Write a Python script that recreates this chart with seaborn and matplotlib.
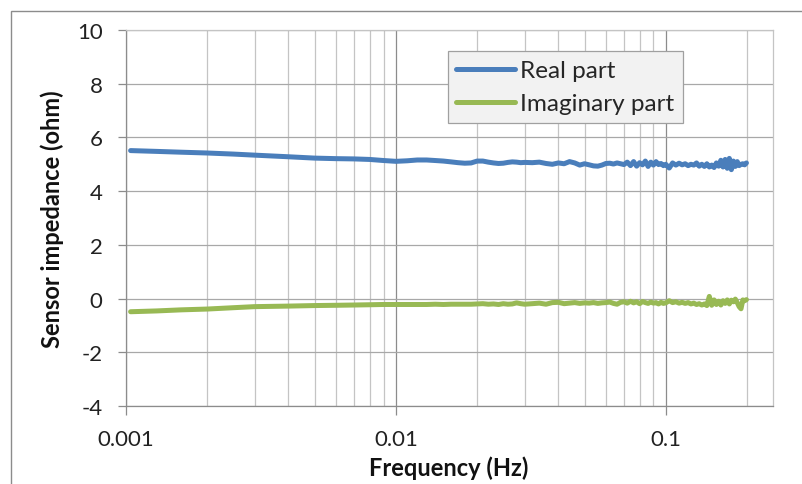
import numpy as np
import pandas as pd
import matplotlib
matplotlib.use("Agg")
import matplotlib.pyplot as plt
import seaborn as sns
from matplotlib.patches import Rectangle
from matplotlib.ticker import LogLocator, FixedLocator, NullFormatter, FixedFormatter
from matplotlib.lines import Line2D

# ---------------- data ----------------
freq_hz = [0.00104, 0.0013, 0.0016, 0.002, 0.0025, 0.003, 0.004, 0.005, 0.006, 0.007,
           0.008, 0.009, 0.010, 0.011, 0.012, 0.013, 0.014, 0.015, 0.016, 0.017,
           0.018, 0.019, 0.020, 0.021, 0.022, 0.023, 0.024, 0.025, 0.026, 0.027,
           0.028, 0.029, 0.030, 0.032, 0.034, 0.036, 0.038, 0.040, 0.042, 0.044,
           0.046, 0.048, 0.050, 0.052, 0.054, 0.056, 0.058, 0.060, 0.062, 0.064,
           0.066, 0.068, 0.070, 0.072, 0.074, 0.076, 0.078, 0.080, 0.082, 0.084,
           0.086, 0.088, 0.090, 0.092, 0.094, 0.096, 0.098, 0.100, 0.103, 0.106,
           0.109, 0.112, 0.115, 0.118, 0.121, 0.124, 0.127, 0.130, 0.133, 0.136,
           0.139, 0.142, 0.145, 0.148, 0.151, 0.154, 0.157, 0.160, 0.163, 0.166,
           0.169, 0.172, 0.175, 0.178, 0.181, 0.184, 0.187, 0.190, 0.193, 0.196,
           0.199]

real_part = [5.51, 5.48, 5.45, 5.42, 5.38, 5.34, 5.28, 5.23, 5.21, 5.20,
             5.18, 5.14, 5.11, 5.13, 5.16, 5.16, 5.14, 5.12, 5.09, 5.06,
             5.04, 5.05, 5.12, 5.12, 5.08, 5.05, 5.03, 5.04, 5.07, 5.09,
             5.08, 5.06, 5.07, 5.06, 5.08, 5.03, 5.00, 5.05, 5.02, 5.10,
             5.05, 4.97, 5.02, 4.98, 4.94, 4.93, 4.97, 5.03, 5.04, 5.01,
             5.05, 5.02, 4.99, 5.08, 4.95, 5.10, 4.93, 5.06, 4.98, 5.12,
             4.92, 5.08, 4.97, 5.10, 4.99, 5.03, 4.95, 5.00, 4.86, 5.05,
             4.97, 5.04, 4.98, 5.02, 4.95, 5.00, 4.97, 5.05, 4.93, 5.00,
             4.92, 5.02, 4.90, 4.97, 4.88, 5.05, 4.93, 5.15, 4.90, 5.18,
             4.85, 5.22, 4.80, 5.12, 4.92, 5.10, 4.95, 5.00, 5.02, 4.98,
             5.05]

imag_part = [-0.49, -0.46, -0.42, -0.39, -0.34, -0.30, -0.28, -0.26, -0.25, -0.24,
             -0.23, -0.22, -0.22, -0.22, -0.22, -0.22, -0.21, -0.22, -0.21, -0.21,
             -0.21, -0.21, -0.20, -0.19, -0.21, -0.20, -0.22, -0.19, -0.21, -0.20,
             -0.16, -0.19, -0.21, -0.19, -0.17, -0.21, -0.15, -0.14, -0.19, -0.17,
             -0.15, -0.18, -0.16, -0.17, -0.15, -0.18, -0.16, -0.15, -0.13, -0.18,
             -0.21, -0.14, -0.12, -0.17, -0.10, -0.16, -0.12, -0.19, -0.11, -0.15,
             -0.18, -0.13, -0.17, -0.15, -0.20, -0.14, -0.18, -0.16, -0.08, -0.15,
             -0.12, -0.17, -0.14, -0.18, -0.15, -0.20, -0.17, -0.22, -0.19, -0.24,
             -0.20, -0.26, 0.08, -0.25, -0.05, -0.22, -0.10, -0.24, -0.08, -0.18,
             -0.05, -0.20, -0.06, -0.12, -0.02, -0.15, -0.30, -0.38, -0.05, -0.08,
             -0.04]

series_names = ["Real part", "Imaginary part"]
series_colors = ["#4a7ebb", "#98b954"]

x_major_ticks = [0.001, 0.01, 0.1]
x_tick_labels = ["0.001", "0.01", "0.1"]
y_ticks = [-4, -2, 0, 2, 4, 6, 8, 10]
x_label = "Frequency (Hz)"
y_label = "Sensor impedance (ohm)"

# ---------------- build frame ----------------
df = pd.concat([
    pd.DataFrame({"freq": freq_hz, "value": real_part, "series": series_names[0]}),
    pd.DataFrame({"freq": freq_hz, "value": imag_part, "series": series_names[1]}),
], ignore_index=True)

sns.set_style("white")
plt.rcParams["font.family"] = ["Lato", "DejaVu Sans"]

fig = plt.figure(figsize=(8.02, 4.85), dpi=100)
ax = fig.add_axes([126 / 802, 1 - 407 / 485, (772.7 - 126) / 802, (407 - 31) / 485])

sns.lineplot(data=df, x="freq", y="value", hue="series", hue_order=series_names,
             palette=series_colors, linewidth=3.6, ax=ax, legend=False, sort=False,
             estimator=None)
for ln in ax.lines:
    ln.set_solid_capstyle("round")
    ln.set_solid_joinstyle("round")
    ln.set_zorder(3)

ax.set_xscale("log")
ax.set_xlim(0.001, 0.249)
ax.set_ylim(-4, 10)

ax.xaxis.set_major_locator(FixedLocator(x_major_ticks))
ax.xaxis.set_major_formatter(FixedFormatter(x_tick_labels))
ax.xaxis.set_minor_locator(LogLocator(base=10, subs=np.arange(2, 10)))
ax.xaxis.set_minor_formatter(NullFormatter())
ax.set_yticks(y_ticks)
ax.set_yticklabels([str(v) for v in y_ticks])

ax.grid(which="minor", axis="x", color="#c4c4c4", linewidth=0.9)
ax.grid(which="major", axis="x", color="#8c8c8c", linewidth=0.9)
ax.grid(which="major", axis="y", color="#a8a8a8", linewidth=0.9)
ax.set_axisbelow(True)

ax.tick_params(axis="x", which="major", direction="out", length=6.5, width=0.9,
               color="#8c8c8c", pad=10, labelsize=16, labelcolor="#222222")
ax.tick_params(axis="x", which="minor", length=0)
ax.tick_params(axis="y", direction="out", length=5.8, width=0.9, color="#8c8c8c",
               pad=11, labelsize=16, labelcolor="#222222")
ax.tick_params(left=True, bottom=True)

for side in ["left", "bottom"]:
    ax.spines[side].set_color("#8c8c8c")
    ax.spines[side].set_linewidth(0.9)
for side in ["top", "right"]:
    ax.spines[side].set_visible(True)
    ax.spines[side].set_color("#c4c4c4")
    ax.spines[side].set_linewidth(0.9)

ax.set_xlabel(x_label, fontsize=17, fontweight="bold", color="#111111")
ax.xaxis.set_label_coords(0.4984, -0.163)
ax.xaxis.label.set_va("center")
ax.set_ylabel(y_label, fontsize=17, fontweight="bold", color="#111111")
ax.yaxis.set_label_coords(-0.1144, 0.5)
ax.yaxis.label.set_va("center")

handles = [Line2D([0], [0], color=c, linewidth=3.6, solid_capstyle="round") for c in series_colors]
leg = ax.legend(handles, series_names, loc="upper left", bbox_to_anchor=(0.4975, 0.9434),
                borderaxespad=0, fontsize=17.5, handlelength=2.4, handletextpad=0.2,
                labelspacing=0.5, borderpad=0.36, frameon=True, fancybox=False,
                facecolor="#f2f2f2", edgecolor="#a0a0a0", framealpha=1)
leg.get_frame().set_linewidth(0.9)

# outer chart frame
fig.patches.append(Rectangle((11 / 802, -0.05), 1.0, 1 - 12 / 485 + 0.05,
                             transform=fig.transFigure, fill=False,
                             edgecolor="#8c8c8c", linewidth=1.0, zorder=0))

fig.savefig("out.png", dpi=100, facecolor="white")
